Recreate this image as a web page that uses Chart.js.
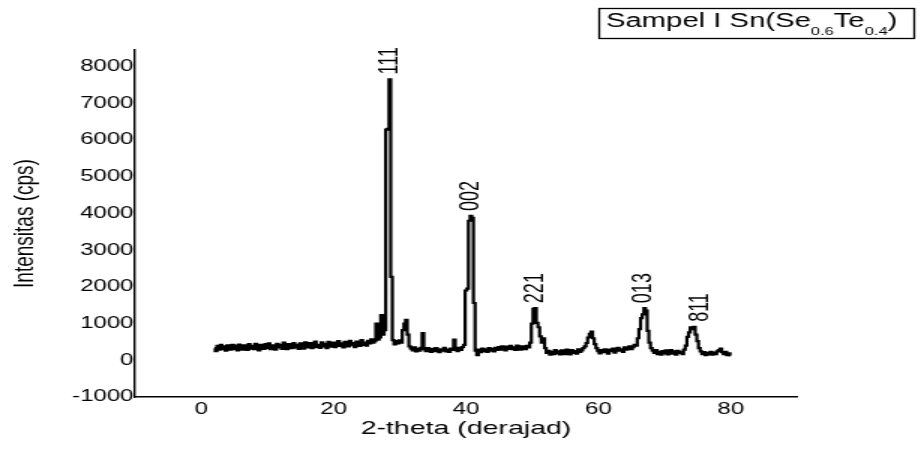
<!DOCTYPE html>
<html>
<head>
<meta charset="utf-8">
<script src="https://cdn.jsdelivr.net/npm/chart.js@4/dist/chart.umd.min.js"></script>
<style>
  html, body { margin: 0; padding: 0; background: #fff; overflow: hidden; }
  /* the original picture is stretched sideways, so draw narrow and stretch */
  #wrap { width: 616px; height: 450px; transform: scale(1.5, 1); transform-origin: 0 0; }
</style>
</head>
<body>
<div id="wrap"><canvas id="xrdChart" width="616" height="450"></canvas></div>
<script>
// 2-theta grid of the scan
const thetaStart = 2;
const thetaStep = 0.25;

// intensity (cps), one value per step, 2.00 .. 80.00
const counts = [
  330, 250, 390, 290, 420, 300, 380, 260, 410, 330, 290, 420,
  310, 400, 270, 430, 340, 290, 410, 350, 280, 440, 320, 390, 300, 450, 330, 270, 420, 360, 310, 440,
  340, 460, 300, 410, 370, 290, 450, 350, 420, 310, 480, 360, 300, 440, 390, 330, 470, 350, 420, 310,
  460, 370, 320, 490, 400, 350, 470, 330, 440, 510, 360, 420, 340, 490, 380, 450, 330, 500, 410, 370,
  480, 360, 430, 520, 390, 460, 350, 500, 420, 380, 530, 410, 470, 360, 510, 440, 390, 550, 420, 480,
  400, 530, 460, 570, 480, 520, 1000, 560, 620, 1230, 700, 820, 6280, 6300, 7650, 2270, 550, 430, 520, 460,
  540, 480, 820, 1000, 1100, 700, 380, 320, 270, 350, 240, 310, 260, 340, 740, 300, 250, 330, 270, 230,
  310, 250, 330, 270, 220, 300, 260, 340, 240, 290, 230, 320, 280, 560, 300, 250, 340, 280, 360, 420,
  1900, 1950, 3800, 3930, 3880, 1560, 260, 140, 290, 220, 320, 250, 300, 230, 330, 260, 310, 240, 340, 280,
  360, 290, 380, 320, 270, 370, 310, 390, 300, 350, 280, 400, 330, 290, 380, 340, 300, 390, 350, 480,
  1000, 1400, 1420, 1020, 900, 650, 480, 600, 330, 200, 260, 150, 230, 170, 280, 190, 240, 160, 270, 210,
  170, 290, 220, 160, 280, 200, 250, 180, 300, 230, 270, 330, 380, 470, 620, 720, 780, 600, 440, 330,
  250, 190, 280, 220, 300, 240, 180, 290, 250, 320, 210, 280, 340, 260, 300, 230, 350, 290, 330, 380,
  300, 360, 420, 400, 600, 850, 1150, 1250, 1420, 1350, 800, 480, 330, 260, 200, 280, 170, 230, 150, 250,
  190, 270, 160, 220, 280, 180, 240, 150, 260, 200, 230, 170, 290, 400, 640, 760, 900, 850, 910, 700,
  520, 330, 240, 170, 220, 140, 200, 160, 230, 150, 210, 170, 240, 280, 320, 220, 170, 230, 140, 190, 130
];

const xTicks = [0, 20, 40, 60, 80];
const yTicks = [-1000, 0, 1000, 2000, 3000, 4000, 5000, 6000, 7000, 8000];

// reflections and the 2-theta where each label stands
const peakNames = ['111', '002', '221', '013', '811'];
const peakTheta = [28.5, 40.7, 50.5, 66.8, 75.4];

// sample name, subscripts marked
const sampleParts = [['Sampel I Sn(Se', false], ['0.6', true], ['Te', false], ['0.4', true], [')', false]];

const points = counts.map((c, i) => ({ x: thetaStart + i * thetaStep, y: c }));
const FONT = '"Liberation Sans", Arial, sans-serif';

const annotations = {
    id: 'annotations',
    afterDraw(chart) {
        const { ctx, scales: { x, y } } = chart;
        ctx.save();
        ctx.fillStyle = '#000';

        // hkl labels above the peaks
        ctx.font = '18px ' + FONT;
        ctx.textAlign = 'left';
        ctx.textBaseline = 'middle';
        peakNames.forEach((name, i) => {
            let top = 0;
            points.forEach(p => {
                if (Math.abs(p.x - peakTheta[i]) <= 1 && p.y > top) top = p.y;
            });
            ctx.save();
            ctx.translate(x.getPixelForValue(peakTheta[i]), y.getPixelForValue(top) - 5);
            ctx.rotate(-Math.PI / 2);
            ctx.fillText(name, 0, 0);
            ctx.restore();
        });

        // sample box, top right
        ctx.strokeStyle = '#000';
        ctx.lineWidth = 1.3;
        ctx.strokeRect(399.5, 8.5, 210, 30);
        ctx.textBaseline = 'alphabetic';
        let tx = 404;
        sampleParts.forEach(([text, sub]) => {
            ctx.font = (sub ? '11px ' : '19.5px ') + FONT;
            ctx.fillText(text, tx, sub ? 35 : 27);
            tx += ctx.measureText(text).width;
        });
        ctx.restore();
    }
};

new Chart(document.getElementById('xrdChart'), {
    type: 'line',
    data: {
        datasets: [{
            data: points,
            borderColor: '#000',
            borderWidth: 2.2,
            pointRadius: 0,
            stepped: 'middle',
            fill: false
        }]
    },
    options: {
        responsive: false,
        animation: false,
        devicePixelRatio: 1,
        layout: { padding: { top: 50, right: 84.7, bottom: 0, left: 0 } },
        plugins: {
            legend: { display: false },
            tooltip: { enabled: false }
        },
        scales: {
            x: {
                type: 'linear',
                min: -10,
                max: 90,
                afterBuildTicks: scale => { scale.ticks = xTicks.map(v => ({ value: v })); },
                afterFit: scale => { scale.height = 53; },
                grid: { display: false, drawTicks: false },
                border: { color: '#000', width: 1.4 },
                ticks: { color: '#000', padding: 3, maxRotation: 0, font: { family: FONT, size: 16 }, callback: v => String(v) },
                title: {
                    display: true,
                    text: '2-theta (derajad)',
                    color: '#000',
                    padding: { top: 0, bottom: 9.6 },
                    font: { family: FONT, size: 19 }
                }
            },
            y: {
                min: -1000,
                max: 8450,
                afterBuildTicks: scale => { scale.ticks = yTicks.map(v => ({ value: v })); },
                afterFit: scale => { scale.width = 90; },
                grid: { display: false, drawTicks: false },
                border: { color: '#000', width: 1.4 },
                ticks: { color: '#000', padding: 1, font: { family: FONT, size: 16 }, callback: v => String(v) },
                title: {
                    display: true,
                    text: 'Intensitas (cps)',
                    color: '#000',
                    padding: { top: 5.3, bottom: 0 },
                    font: { family: FONT, size: 19 }
                }
            }
        }
    },
    plugins: [annotations]
});
</script>
</body>
</html>
